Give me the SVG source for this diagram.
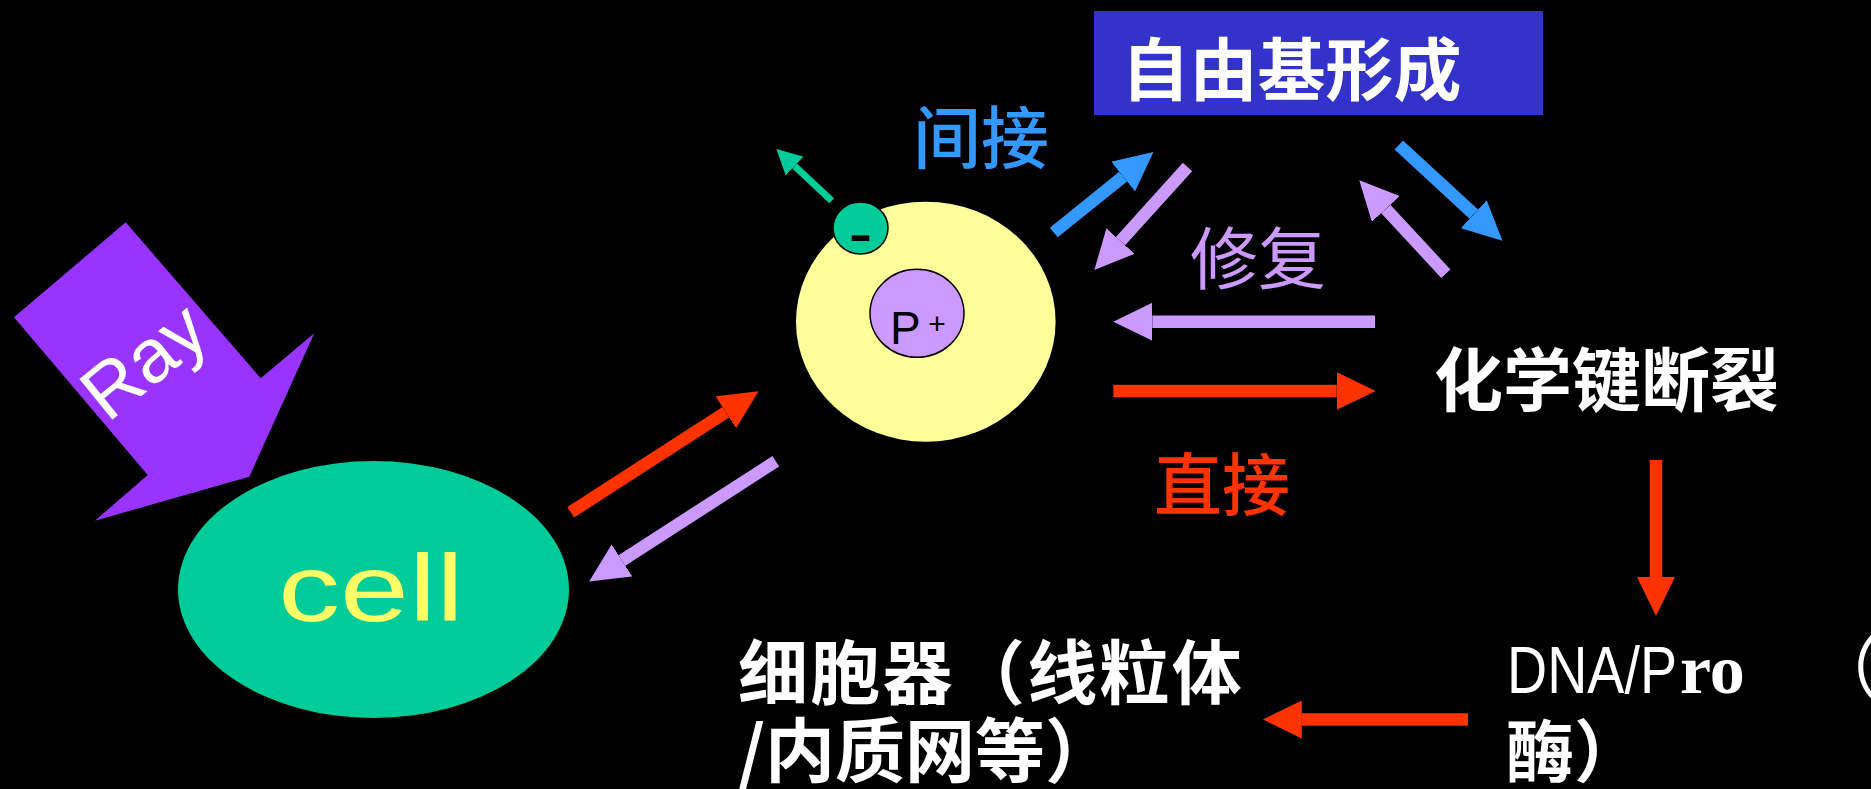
<svg xmlns="http://www.w3.org/2000/svg" width="1871" height="789" viewBox="0 0 1871 789">
  <defs>
    <style>
      .cjk { font-family: "Noto Sans CJK SC", "Noto Sans CJK TC", sans-serif; }
      .lat { font-family: "Liberation Sans", Arial, sans-serif; }
      .shaft { fill: none; stroke-width: 12.5; stroke-linecap: butt; }
      .red { stroke: #FF3300; }
      .lilac { stroke: #CC99FF; }
      .blue { stroke: #3399FF; }
    </style>
    <!-- arrowheads: line ends at the back of the head, head extends forward -->
    <marker id="headRed" markerUnits="userSpaceOnUse" viewBox="0 0 39 38" markerWidth="39" markerHeight="38" refX="0" refY="19" orient="auto">
      <path d="M0,0 L39,19 L0,38 z" fill="#FF3300"/>
    </marker>
    <marker id="headLilac" markerUnits="userSpaceOnUse" viewBox="0 0 39 38" markerWidth="39" markerHeight="38" refX="0" refY="19" orient="auto">
      <path d="M0,0 L39,19 L0,38 z" fill="#CC99FF"/>
    </marker>
    <marker id="headBlue" markerUnits="userSpaceOnUse" viewBox="0 0 39 38" markerWidth="39" markerHeight="38" refX="0" refY="19" orient="auto">
      <path d="M0,0 L39,19 L0,38 z" fill="#3399FF"/>
    </marker>
    <marker id="headGreen" markerUnits="userSpaceOnUse" viewBox="0 0 25 26" markerWidth="25" markerHeight="26" refX="0" refY="13" orient="auto">
      <path d="M0,0 L25,13 L0,26 z" fill="#00CC99"/>
    </marker>
  </defs>

  <rect x="0" y="0" width="1871" height="789" fill="#000000"/>

  <!-- incoming radiation -->
  <g id="ray">
    <polygon points="125.7,222.3 260.7,378.3 314.3,333.3 249.3,476.7 95,520.7 147.7,475 14,317.3" fill="#9933FF"/>
    <text class="lat" transform="translate(160,381) rotate(-39)" text-anchor="middle" font-size="76" fill="#FFFFFF">Ray</text>
  </g>

  <!-- cell -->
  <g id="cell">
    <ellipse cx="373.5" cy="589.5" rx="195.5" ry="128.5" fill="#00CC99"/>
    <text class="lat" transform="translate(371,621) scale(1.3,1)" text-anchor="middle" font-size="95" fill="#FFFF66">cell</text>
  </g>

  <!-- atom with nucleus -->
  <g id="atom">
    <ellipse cx="925.8" cy="321.7" rx="129.8" ry="120" fill="#FFFF99"/>
    <ellipse cx="917" cy="313.3" rx="47" ry="44" fill="#CC99FF" stroke="#000000" stroke-width="1.5"/>
    <text class="lat" x="890" y="344" font-size="46" fill="#000000">P</text>
    <text class="lat" x="937" y="334" font-size="30" text-anchor="middle" fill="#000000">+</text>
  </g>
  <!-- ejected electron -->
  <g id="electron">
    <ellipse cx="860.5" cy="228" rx="27.5" ry="26" fill="#00CC99" stroke="#000000" stroke-width="1.5"/>
    <text class="lat" x="860.5" y="257" font-size="72" text-anchor="middle" fill="#000000">-</text>
  </g>

  <!-- labels -->
  <g id="label-indirect">
    <text class="cjk" x="981" y="163" font-size="68" font-weight="500" text-anchor="middle" fill="#3399FF">间接</text>
  </g>
  <g id="radical">
    <rect x="1094" y="11" width="449" height="104" fill="#3333CC"/>
    <text class="cjk" x="1291.5" y="94.5" font-size="68" font-weight="bold" text-anchor="middle" fill="#FFFFFF">自由基形成</text>
  </g>
  <g id="label-repair">
    <text class="cjk" x="1258" y="284" font-size="68" text-anchor="middle" fill="#CC99FF">修复</text>
  </g>
  <g id="label-direct">
    <text class="cjk" x="1222" y="510" font-size="68" font-weight="500" text-anchor="middle" fill="#FF3300">直接</text>
  </g>
  <g id="bond-break">
    <text class="cjk" x="1606.5" y="406" font-size="69" font-weight="bold" text-anchor="middle" fill="#FFFFFF">化学键断裂</text>
  </g>
  <g id="dna-pro">
    <!-- narrow sans part, squeezed horizontally -->
    <text class="lat" transform="translate(1507,693) scale(0.843,1)" font-size="66" fill="#FFFFFF">DNA/P</text>
    <text x="1680" y="693" font-family="Liberation Serif, serif" font-weight="bold" font-size="70" fill="#FFFFFF">ro</text>
    <text class="cjk" x="1811" y="693" font-size="68" fill="#FFFFFF">（</text>
    <text class="cjk" x="1506" y="777" font-size="68" font-weight="bold" fill="#FFFFFF">酶）</text>
  </g>
  <g id="organelle">
    <text class="cjk" x="738" y="699" font-size="70" font-weight="bold" letter-spacing="2.3" fill="#FFFFFF">细胞器（线粒体</text>
    <text class="cjk" x="738" y="777" font-size="70" font-weight="bold" fill="#FFFFFF">/内质网等）</text>
  </g>

  <!-- connectors -->
  <g id="connectors">
    <line class="shaft red" x1="570.7" y1="512.3" x2="725.8" y2="412.3" marker-end="url(#headRed)"/>
    <line class="shaft lilac" x1="775.8" y1="461.3" x2="621.9" y2="560.4" marker-end="url(#headLilac)"/>
    <line x1="831.7" y1="200.8" x2="794.6" y2="166" stroke="#00CC99" stroke-width="7" marker-end="url(#headGreen)"/>
    <line class="shaft blue" x1="1053.8" y1="232.5" x2="1123.1" y2="176.6" marker-end="url(#headBlue)"/>
    <line class="shaft lilac" x1="1187.5" y1="167" x2="1120.5" y2="241.1" marker-end="url(#headLilac)"/>
    <line class="shaft lilac" x1="1445.8" y1="273.7" x2="1385.8" y2="208.9" marker-end="url(#headLilac)"/>
    <line class="shaft blue" x1="1398.8" y1="145" x2="1473.8" y2="214.2" marker-end="url(#headBlue)"/>
    <line class="shaft lilac" x1="1375" y1="321.7" x2="1152.3" y2="321.7" marker-end="url(#headLilac)"/>
    <line class="shaft red" x1="1113.3" y1="391" x2="1336.7" y2="391" marker-end="url(#headRed)"/>
    <line class="shaft red" x1="1656" y1="460" x2="1656" y2="577" marker-end="url(#headRed)"/>
    <line class="shaft red" x1="1468" y1="719.5" x2="1301.8" y2="719.5" marker-end="url(#headRed)"/>
  </g>
</svg>
